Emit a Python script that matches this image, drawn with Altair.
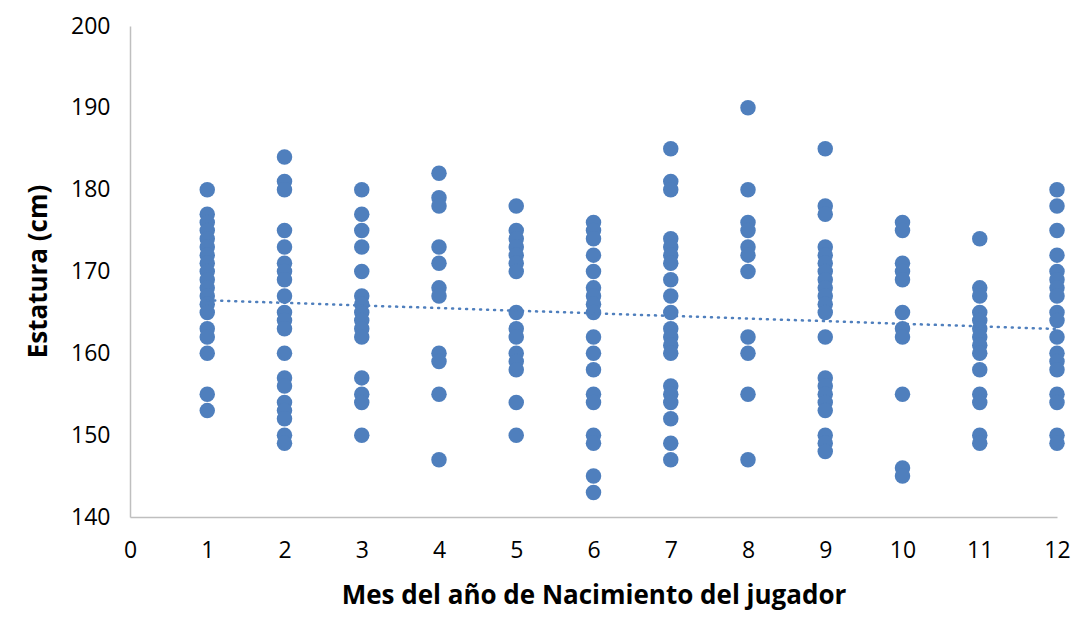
import altair as alt
import pandas as pd

months = list(range(1, 13))
heights = {
    1: [180, 177, 176, 175, 174, 173, 172, 171, 170, 169, 168, 167, 166, 165, 163, 162, 160, 155, 153],
    2: [184, 181, 180, 175, 173, 171, 170, 169, 167, 165, 164, 163, 160, 157, 156, 154, 153, 152, 150, 149],
    3: [180, 177, 175, 173, 170, 167, 166, 165, 164, 163, 162, 157, 155, 154, 150],
    4: [182, 179, 178, 173, 171, 168, 167, 160, 159, 155, 147],
    5: [178, 175, 174, 173, 172, 171, 170, 165, 163, 162, 160, 159, 158, 154, 150],
    6: [176, 175, 174, 172, 170, 168, 167, 166, 165, 162, 160, 158, 155, 154, 150, 149, 145, 143],
    7: [185, 181, 180, 174, 173, 172, 171, 169, 167, 165, 163, 162, 161, 160, 156, 155, 154, 152, 149, 147],
    8: [190, 180, 176, 175, 173, 172, 170, 162, 160, 155, 147],
    9: [185, 178, 177, 173, 172, 171, 170, 169, 168, 167, 166, 165, 162, 157, 156, 155, 154, 153, 150, 149, 148],
    10: [176, 175, 171, 170, 169, 165, 163, 162, 155, 146, 145],
    11: [174, 168, 167, 165, 164, 163, 162, 161, 160, 158, 155, 154, 150, 149],
    12: [180, 178, 175, 172, 170, 169, 168, 167, 165, 164, 162, 160, 159, 158, 155, 154, 150, 149],
}

rows = [{"mes": m, "estatura": h} for m in months for h in heights[m]]
df = pd.DataFrame(rows)

BLUE = "#4F7FBD"
FONT = "Open Sans"

x_enc = alt.X("mes:Q", scale=alt.Scale(domain=[0, 12], nice=False),
              axis=alt.Axis(values=list(range(0, 13)), format="d", title="Mes del año de Nacimiento del jugador",
                            grid=False, ticks=False, domainColor="#BFBFBF", domainWidth=1.5,
                            labelFont=FONT, labelFontSize=23, labelColor="#000000", labelPadding=22,
                            titleFont=FONT, titleFontSize=26, titleFontWeight="bold", titleColor="#000000",
                            titleBaseline="middle", titleY=78, labelFlush=False, labelOverlap=False))
y_enc = alt.Y("estatura:Q", scale=alt.Scale(domain=[140, 200], nice=False, zero=False),
              axis=alt.Axis(values=list(range(140, 201, 10)), format="d", title="Estatura (cm)",
                            grid=False, ticks=False, domainColor="#BFBFBF", domainWidth=1.5,
                            labelFont=FONT, labelFontSize=23, labelColor="#000000", labelPadding=20,
                            titleFont=FONT, titleFontSize=26, titleFontWeight="bold", titleColor="#000000",
                            titleBaseline="middle", titleX=-92, titleY=245, titleAngle=-90))

points = alt.Chart(df).mark_circle(size=240, color=BLUE, opacity=1).encode(x=x_enc, y=y_enc)

trend = alt.Chart(df).transform_regression("mes", "estatura").mark_line(
    color=BLUE, strokeWidth=2.5, strokeDash=[1, 6], strokeCap="round"
).encode(x="mes:Q", y="estatura:Q")

chart = (points + trend).properties(
    width=927, height=491,
    autosize=alt.AutoSizeParams(type="none"),
    padding={"left": 122, "top": 18, "right": 17, "bottom": 95},
).configure_view(stroke=None)

chart.save("out.html", embed_options={"renderer": "svg", "actions": False})
